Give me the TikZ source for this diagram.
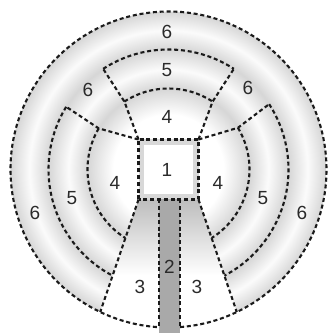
\documentclass[tikz,border=0pt]{standalone}
\usepackage{fontspec}
\setmainfont{Liberation Sans}
\usetikzlibrary{calc}
\definecolor{txt}{HTML}{2A2A2A}
\definecolor{ringgray}{HTML}{D6D6D6}
\definecolor{ringwhite}{HTML}{FBFBFB}
\definecolor{corr}{HTML}{A9A9A9}
\definecolor{sqband}{HTML}{D8D8D8}
\definecolor{dashcol}{HTML}{1A1A1A}
\pgfdeclareradialshading{rings}{\pgfpoint{0bp}{0bp}}{color(0bp)=(white); color(8.7bp)=(white); color(12.82bp)=(ringgray); color(15.82bp)=(ringwhite); color(18.99bp)=(ringgray); color(22bp)=(ringwhite); color(25bp)=(ringgray); color(50bp)=(ringgray)}
\begin{document}
\begin{tikzpicture}[x=1pt,y=1pt,
  bd/.style={line width=2.1pt, dash pattern=on 4pt off 2.8pt, draw=dashcol},
  lbl/.style={text=txt, inner sep=0pt, font=\fontsize{19}{19}\selectfont}]
\useasboundingbox (0,0) rectangle (331,333);
\coordinate (O) at (168.5,163.5);
\coordinate (TL) at (138.5,193.5);
\coordinate (TR) at (198.5,193.5);
\coordinate (BL) at (138.5,133.5);
\coordinate (BR) at (198.5,133.5);
\coordinate (L3) at ($(O)+(244.4:158)$);
\coordinate (R3) at ($(O)+(295.6:158)$);
% ring shading
\shade[shading=rings] (O) circle (158);
% region 3
\begin{scope}
  \clip (BL) -- (L3) arc[start angle=244.4, end angle=295.6, radius=158] -- (BR) -- cycle;
  \fill[white] (90,0) rectangle (250,140);
  \shade[top color=gray!52, bottom color=white] (90,133.5) rectangle (250,58);
\end{scope}
% corridor 2
\fill[corr] (159,0) rectangle (180,133.5);
% square 1
\fill[sqband] (BL) rectangle (TR);
\fill[white] ($(BL)+(5.5,5.5)$) rectangle ($(TR)+(-5.5,-5.5)$);
% outer circle
\draw[bd] ($(O)+(274.2:158)$) arc[start angle=274.2, end angle=626.55, radius=158];
% square outline
\draw[bd] (BL) rectangle (TR);
% corridor sides
\coordinate (C1) at (159,133.5);
\coordinate (C2) at (180,133.5);
\coordinate (C1e) at (159,6);
\coordinate (C2e) at (180,6);
\draw[bd] (C1) -- (C1e);
\draw[bd] (C2) -- (C2e);
% region 3 sides
\draw[bd] (BL) -- (L3);
\draw[bd] (BR) -- (R3);
% top sector
\draw[bd] (TL) -- ($(O)+(123:81)$) -- ($(O)+(123:120)$);
\draw[bd] (TR) -- ($(O)+(57:81)$) -- ($(O)+(57:120)$);
\draw[bd] ($(O)+(123:120)$) arc[start angle=123, end angle=57, radius=120];
\draw[bd] ($(O)+(123:81)$) arc[start angle=123, end angle=57, radius=81];
% left sector
\draw[bd] (TL) -- ($(O)+(149.5:81)$) -- ($(O)+(148.5:120)$);
\draw[bd] ($(O)+(148.5:120)$) arc[start angle=148.5, end angle=242.2, radius=120];
\draw[bd] ($(O)+(149.5:81)$) arc[start angle=149.5, end angle=237.8, radius=81];
% right sector
\draw[bd] (TR) -- ($(O)+(31:81)$) -- ($(O)+(33:120)$);
\draw[bd] ($(O)+(33:120)$) arc[start angle=33, end angle=-62.2, radius=120];
\draw[bd] ($(O)+(31:81)$) arc[start angle=31, end angle=-57.8, radius=81];
% labels
\node[lbl] (l6t) at (167,301) {6};
\node[lbl] (l5t) at (167,263) {5};
\node[lbl] (l4t) at (167,216) {4};
\node[lbl] (l6ul) at (88,243) {6};
\node[lbl] (l6ur) at (248,245) {6};
\node[lbl] (l1) at (167,163) {1};
\node[lbl] (l4l) at (115,150) {4};
\node[lbl] (l4r) at (218,150) {4};
\node[lbl] (l5l) at (72,135) {5};
\node[lbl] (l5r) at (263,135) {5};
\node[lbl] (l6l) at (35,120) {6};
\node[lbl] (l6r) at (302,120) {6};
\node[lbl] (l2) at (169.5,66) {2};
\node[lbl] (l3l) at (140,46) {3};
\node[lbl] (l3r) at (197,46) {3};
\end{tikzpicture}
\end{document}
